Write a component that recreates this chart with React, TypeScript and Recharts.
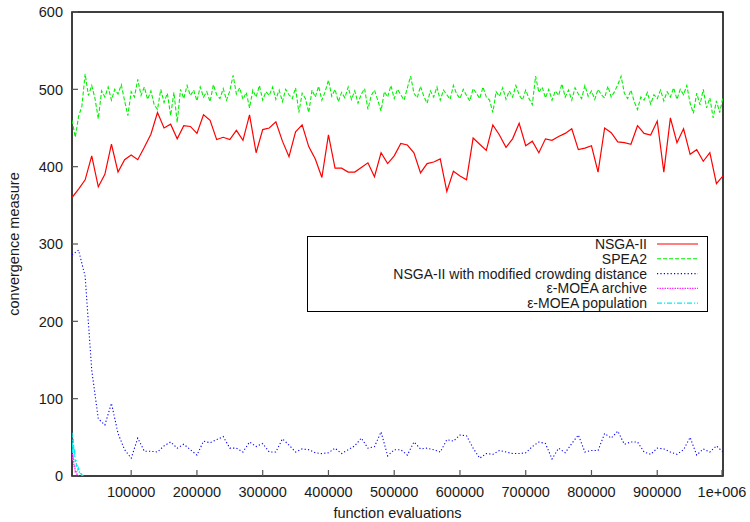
import { LineChart, Line, XAxis, YAxis, Legend, ReferenceArea } from 'recharts'

// x values (function evaluations)
const STEP_10K = Array.from({ length: 100 }, (_, i) => 10000 + i * 10000)
const STEP_5K = Array.from({ length: 199 }, (_, i) => 10000 + i * 5000)
const STEP_1K = Array.from({ length: 18 }, (_, i) => 10000 + i * 1000)

const X_TICKS = [100000, 200000, 300000, 400000, 500000, 600000, 700000, 800000, 900000, 1000000]
const Y_TICKS = [0, 100, 200, 300, 400, 500, 600]

// NSGA-II, one value every 10000 evaluations
const nsga2 = [
  360, 371, 383, 414, 374, 390, 429, 393, 409, 415,
  409, 425, 442, 470, 450, 455, 436, 453, 452, 443,
  467, 460, 435, 438, 435, 447, 434, 467, 418, 448,
  450, 458, 433, 413, 445, 454, 426, 410, 386, 441,
  398, 398, 393, 393, 399, 405, 387, 418, 404, 414,
  430, 428, 418, 392, 404, 406, 410, 368, 394, 388,
  383, 437, 429, 421, 454, 441, 425, 436, 456, 427,
  433, 418, 436, 434, 439, 443, 449, 422, 424, 427,
  393, 450, 444, 432, 431, 429, 453, 443, 441, 459,
  393, 463, 431, 449, 416, 422, 407, 418, 378, 388,
]

// SPEA2, one value every 5000 evaluations
const spea2 = [
  460, 438, 465, 478, 520, 492, 505, 488, 462, 498,
  490, 503, 486, 500, 494, 506, 485, 466, 497, 490,
  513, 492, 503, 487, 498, 480, 474, 500, 483, 495,
  466, 496, 457, 500, 488, 505, 492, 499, 485, 503,
  490, 497, 484, 506, 493, 488, 501, 486, 498, 518,
  494, 502, 487, 496, 476, 499, 490, 505, 486, 497,
  492, 503, 487, 499, 484, 500, 493, 488, 502, 470,
  495, 488, 470, 499, 490, 504, 486, 497, 512, 491,
  500, 484, 496, 489, 503, 487, 498, 482, 494, 501,
  474, 492, 499, 486, 472, 497, 490, 505, 488, 500,
  493, 486, 502, 517, 495, 489, 504, 491, 482, 498,
  490, 503, 486, 499, 493, 487, 505, 494, 488, 500,
  492, 485, 501, 495, 488, 503, 490, 486, 470, 497,
  491, 502, 487, 498, 490, 505, 493, 486, 499, 488,
  480, 517, 496, 503, 489, 500, 486, 498, 492, 507,
  490, 499, 486, 502, 494, 488, 505, 491, 498, 487,
  500, 493, 489, 504, 490, 497, 506, 517, 495, 488,
  499, 484, 474, 490, 486, 496, 481, 493, 488, 499,
  485, 497, 490, 502, 487, 500, 493, 505, 482, 469,
  495, 480, 500, 476, 489, 463, 485, 470, 490,
]

// NSGA-II with modified crowding distance, every 10000 evaluations
const crowding = [
  286, 292, 258, 137, 74, 66, 94, 55, 34, 23,
  49, 32, 32, 31, 39, 44, 36, 41, 34, 27,
  45, 43, 47, 51, 36, 36, 31, 44, 38, 42,
  31, 31, 48, 40, 31, 35, 34, 30, 29, 30,
  36, 29, 34, 39, 49, 36, 38, 57, 26, 34,
  34, 27, 44, 35, 36, 34, 31, 47, 45, 53,
  52, 36, 23, 29, 28, 33, 31, 29, 29, 30,
  38, 44, 42, 22, 36, 30, 42, 53, 31, 33,
  33, 55, 49, 58, 41, 44, 44, 31, 28, 36,
  35, 31, 28, 34, 50, 27, 35, 31, 39, 31,
]

// ε-MOEA, every 1000 evaluations at the very start
const epsArchive = [35, 20, 25, 12, 14, 6, 7, 3, 2, 1, 0]
const epsPopulation = [56, 30, 48, 25, 35, 18, 22, 12, 15, 8, 10, 5, 6, 3, 3, 1, 1, 0]

const toPoints = (xs: number[], ys: number[]) => ys.map((y, i) => ({ x: xs[i], y }))

const SERIES = [
  { name: 'NSGA-II', data: toPoints(STEP_10K, nsga2), color: '#ff0000', dash: undefined, width: 1.2 },
  { name: 'SPEA2', data: toPoints(STEP_5K, spea2), color: '#00f000', dash: '4 2', width: 1.1 },
  { name: 'NSGA-II with modified crowding distance', data: toPoints(STEP_10K, crowding), color: '#0000ff', dash: '1.2 2.2', width: 1.1 },
  { name: 'ε-MOEA archive', data: toPoints(STEP_1K, epsArchive), color: '#ff33ff', dash: '1.5 1', width: 1.4 },
  { name: 'ε-MOEA population', data: toPoints(STEP_1K, epsPopulation), color: '#00eeee', dash: '5 2 1 2', width: 1.3 },
]

const FONT = '"Liberation Sans", Arial, Helvetica, sans-serif'
const TEXT = '#1a1a1a'

function fmtX(v: number) {
  return v >= 1000000 ? '1e+006' : String(v)
}

function YTick(props: any) {
  const { x, y, payload } = props
  return (
    <g>
      <line x1={x} x2={x + 6} y1={y} y2={y} stroke="#555" strokeWidth={1.2} />
      <text x={x - 9} y={y} dy="0.36em" textAnchor="end" fontSize={14.5} fill={TEXT} fontFamily={FONT}>
        {payload.value}
      </text>
    </g>
  )
}

function XTick(props: any) {
  const { x, y, payload } = props
  return (
    <g>
      <line x1={x} x2={x} y1={y} y2={y - 6} stroke="#555" strokeWidth={1.2} />
      <text x={x} y={y + 15.5} dy="0.36em" textAnchor="middle" fontSize={14.5} fill={TEXT} fontFamily={FONT}>
        {fmtX(payload.value)}
      </text>
    </g>
  )
}

function LegendBox() {
  return (
    <div
      style={{
        width: 401,
        height: 76,
        border: '1.5px solid #000',
        boxSizing: 'border-box',
        background: '#fff',
      }}
    >
      <svg width={398} height={73} style={{ display: 'block', overflow: 'visible' }}>
        {SERIES.map((s, i) => {
          const cy = 7 + i * 14.8
          return (
            <g key={s.name}>
              <text
                x={339}
                y={cy}
                dy="0.35em"
                textAnchor="end"
                fontSize={14}
                fill={TEXT}
                fontFamily={FONT}
              >
                {s.name}
              </text>
              <line x1={349} x2={390} y1={cy} y2={cy} stroke={s.color} strokeWidth={s.width} strokeDasharray={s.dash} />
            </g>
          )
        })}
      </svg>
    </div>
  )
}

export default function App() {
  return (
    <div style={{ position: 'absolute', left: 0, top: 0, width: 750, height: 522, background: '#fff' }}>
      <LineChart width={750} height={522} margin={{ top: 12, right: 27, left: 0, bottom: 0 }}>
        <XAxis
          type="number"
          dataKey="x"
          domain={[10000, 1000000]}
          ticks={X_TICKS}
          allowDataOverflow
          height={46}
          tickSize={0}
          tickMargin={0}
          axisLine={false}
          tick={<XTick />}
          label={{
            content: () => (
              <text x={397.5} y={512.5} dy="0.36em" textAnchor="middle" fontSize={14.5} fill={TEXT} fontFamily={FONT}>
                function evaluations
              </text>
            ),
          }}
        />
        <YAxis
          type="number"
          domain={[0, 600]}
          ticks={Y_TICKS}
          allowDataOverflow
          width={72}
          tickSize={0}
          tickMargin={0}
          axisLine={false}
          tick={<YTick />}
          label={{
            content: () => (
              <text
                x={14}
                y={244}
                dy="0.36em"
                textAnchor="middle"
                fontSize={14.5}
                fill={TEXT}
                fontFamily={FONT}
                transform="rotate(-90 14 244)"
              >
                convergence measure
              </text>
            ),
          }}
        />
        {SERIES.map((s) => (
          <Line
            key={s.name}
            data={s.data}
            dataKey="y"
            name={s.name}
            type="linear"
            stroke={s.color}
            strokeWidth={s.width}
            strokeDasharray={s.dash}
            dot={false}
            activeDot={false}
            isAnimationActive={false}
          />
        ))}
        <ReferenceArea x1={10000} x2={1000000} y1={0} y2={600} fill="none" stroke="#000" strokeWidth={1.5} />
        <Legend
          verticalAlign="middle"
          align="center"
          layout="horizontal"
          content={<LegendBox />}
          wrapperStyle={{ left: 307, top: 236, width: 401, height: 76 }}
        />
      </LineChart>
    </div>
  )
}
